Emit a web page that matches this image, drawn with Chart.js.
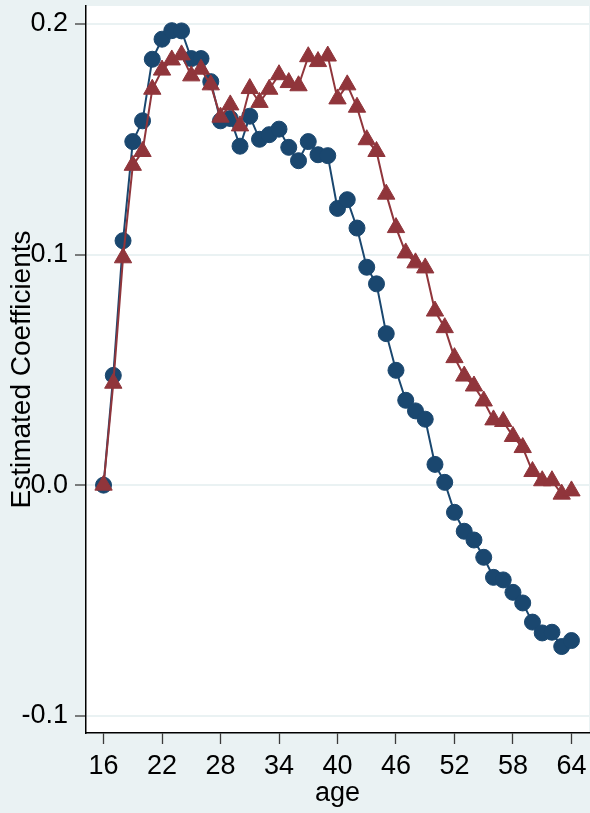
<!DOCTYPE html>
<html>
<head>
<meta charset="utf-8">
<script src="https://cdn.jsdelivr.net/npm/chart.js@4/dist/chart.umd.min.js"></script>
<style>
	html, body { margin: 0; padding: 0; background: #EAF2F3; }
	canvas { display: block; }
</style>
</head>
<body>
<canvas id="chart" width="590" height="813"></canvas>
<script>
var ages = [16, 17, 18, 19, 20, 21, 22, 23, 24, 25, 26, 27, 28, 29, 30, 31, 32,
	33, 34, 35, 36, 37, 38, 39, 40, 41, 42, 43, 44, 45, 46, 47, 48, 49, 50,
	51, 52, 53, 54, 55, 56, 57, 58, 59, 60, 61, 62, 63, 64];
var coefCircles = [0.0, 0.0476, 0.106, 0.149, 0.158, 0.1847, 0.1934, 0.1971, 0.197,
	0.185, 0.185, 0.175, 0.158, 0.159, 0.147, 0.160, 0.150, 0.152, 0.1544,
	0.1465, 0.1407, 0.149, 0.1433, 0.1429, 0.120, 0.1238, 0.1115, 0.0945,
	0.0873, 0.0657, 0.0498, 0.0368, 0.0322, 0.0286, 0.009, 0.0012, -0.0118,
	-0.020, -0.0238, -0.0313, -0.040, -0.0411, -0.0465, -0.0511, -0.0594,
	-0.0641, -0.0638, -0.070, -0.0674];
var coefTriangles = [0.0, 0.0442, 0.0986, 0.1387, 0.1447, 0.1717, 0.180, 0.1844,
	0.1866, 0.1775, 0.1804, 0.1736, 0.1596, 0.1649, 0.1558, 0.172, 0.166,
	0.1717, 0.178, 0.1746, 0.1732, 0.1858, 0.1837, 0.1861, 0.1675, 0.1736,
	0.1639, 0.1498, 0.1447, 0.1262, 0.1117, 0.1007, 0.0964, 0.0942, 0.0755,
	0.0683, 0.0553, 0.0473, 0.043, 0.0365, 0.0283, 0.0276, 0.0211, 0.0163,
	0.0059, 0.0019, 0.0019, -0.0039, -0.0025];
var xTicks = [16, 22, 28, 34, 40, 46, 52, 58, 64];
var yTicks = [-0.1, 0.0, 0.1, 0.2];

var navy = '#1A476F';
var maroon = '#90353B';
var fontFamily = '"Liberation Sans", Arial, Helvetica, sans-serif';

function toPoints(values) {
	var pts = [];
	for (var i = 0; i < ages.length; i++) {
		pts.push({x: ages[i], y: values[i]});
	}
	return pts;
}

// keep label overhang from shrinking the plot region
function noOverhang(scale) {
	scale.paddingTop = 0;
	scale.paddingBottom = 0;
	scale.paddingLeft = 0;
	scale.paddingRight = 0;
}

// stata-ish backgrounds: bluish graph region, white plot region
var backgroundPlugin = {
	id: 'regions',
	beforeDraw: function(chart) {
		var ctx = chart.ctx;
		var a = chart.chartArea;
		ctx.save();
		ctx.fillStyle = '#EAF2F3';
		ctx.fillRect(0, 0, chart.width, chart.height);
		ctx.fillStyle = '#FFFFFF';
		ctx.fillRect(a.left, a.top, a.right - a.left, a.bottom - a.top);
		ctx.restore();
	}
};

var ctx = document.getElementById('chart').getContext('2d');
var chart = new Chart(ctx, {
	type: 'line',
	data: {
		datasets: [{
			label: 'circles',
			data: toPoints(coefCircles),
			borderColor: navy,
			backgroundColor: navy,
			borderWidth: 2,
			pointStyle: 'circle',
			pointRadius: 8,
			pointBorderWidth: 1,
			pointBorderColor: navy,
			pointBackgroundColor: navy,
			order: 1
		}, {
			label: 'triangles',
			data: toPoints(coefTriangles),
			borderColor: maroon,
			backgroundColor: maroon,
			borderWidth: 2,
			pointStyle: 'triangle',
			pointRadius: 10,
			pointBorderWidth: 1,
			pointBorderColor: maroon,
			pointBackgroundColor: maroon,
			order: 0
		}]
	},
	options: {
		responsive: false,
		animation: false,
		layout: {
			autoPadding: false,
			padding: {top: 6, right: 1, left: 0, bottom: 0}
		},
		plugins: {
			legend: {display: false},
			tooltip: {enabled: false}
		},
		scales: {
			x: {
				type: 'linear',
				min: 14.2,
				max: 65.8,
				afterFit: function(scale) {
					scale.height = 80;
					noOverhang(scale);
				},
				afterBuildTicks: function(scale) {
					scale.ticks = xTicks.map(function(v) { return {value: v}; });
				},
				grid: {
					drawOnChartArea: false,
					drawTicks: true,
					tickLength: 11,
					tickColor: '#3A3A3A',
					tickWidth: 1.3
				},
				border: {color: '#000000', width: 1.5},
				ticks: {
					color: '#000000',
					padding: 9,
					maxRotation: 0,
					autoSkip: false,
					font: {family: fontFamily, size: 27, lineHeight: 1}
				},
				title: {
					display: true,
					text: 'age',
					color: '#000000',
					padding: {top: 0, bottom: 6},
					font: {family: fontFamily, size: 27, lineHeight: 1}
				}
			},
			y: {
				min: -0.1075,
				max: 0.2078,
				afterFit: function(scale) {
					scale.width = 86;
					noOverhang(scale);
				},
				afterBuildTicks: function(scale) {
					scale.ticks = yTicks.map(function(v) { return {value: v}; });
				},
				grid: {
					color: '#EAF2F3',
					lineWidth: 2,
					drawTicks: true,
					tickLength: 11,
					tickColor: '#3A3A3A',
					tickWidth: 1.3
				},
				border: {color: '#000000', width: 1.5},
				ticks: {
					color: '#000000',
					padding: 7,
					autoSkip: false,
					font: {family: fontFamily, size: 27, lineHeight: 1},
					callback: function(value) { return value.toFixed(1); }
				},
				title: {
					display: true,
					text: 'Estimated Coefficients',
					color: '#000000',
					padding: {top: 8, bottom: 0},
					font: {family: fontFamily, size: 28, lineHeight: 1}
				}
			}
		}
	},
	plugins: [backgroundPlugin]
});
</script>
</body>
</html>
